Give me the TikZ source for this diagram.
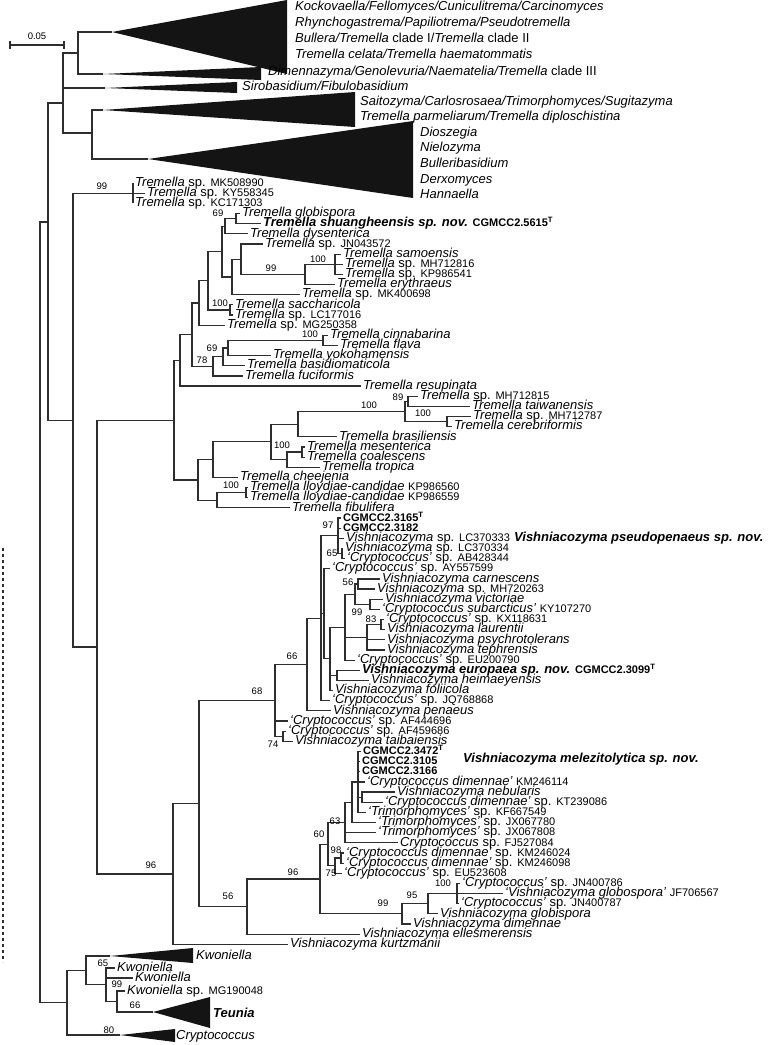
\documentclass[tikz,border=0pt]{standalone}
\usepackage{fontspec}
\setmainfont{Liberation Sans}
\usepackage{tikz}
\newcommand{\acc}[1]{{\fontsize{11}{11}\selectfont\upshape #1}}
\newcommand{\strn}[1]{{\fontsize{11}{11}\selectfont\bfseries\upshape #1}}
\begin{document}
\begin{tikzpicture}[
  x=1pt, y=-1pt,
  br/.style={draw=black!82, line width=1.2pt},
  tri/.style={fill=black!92},
  sp/.style={anchor=west, inner xsep=2pt, inner ysep=0pt, text height=9pt, text depth=2.5pt, font=\fontsize{13}{13}\selectfont},
  bsv/.style={inner sep=0pt, font=\fontsize{9.5}{9.5}\selectfont},
  big/.style={anchor=west, inner sep=0pt, font=\fontsize{13}{13}\selectfont\bfseries\itshape}
]
  \useasboundingbox (0,0) rectangle (771,1045);

  % scale bar
  \coordinate (s0) at (10,45);
  \coordinate (s1) at (64,45);
  \draw[br] (s0) -- (s1) (10,41) -- (10,49) (64,41) -- (64,49);
  \node[bsv] (sl) at (37,36) {0.05};

  % collapsed clades at the top
  \coordinate (root) at (40,612);
  \coordinate (n48) at (48,222);
  \coordinate (nTop) at (63,103);
  \coordinate (nA) at (78,53);
  \coordinate (nB2) at (92,133);
  \coordinate (kock) at (112,32);
  \coordinate (dime) at (103,74);
  \coordinate (siro) at (105,88);
  \coordinate (sait) at (103,110);
  \coordinate (dios) at (148,159);
  \fill[tri] (kock) -- (287,0) -- (287,74) -- cycle;
  \fill[tri] (dime) -- (261,67) -- (261,80) -- cycle;
  \fill[tri] (siro) -- (237,82) -- (237,93) -- cycle;
  \fill[tri] (sait) -- (355,92) -- (355,127) -- cycle;
  \fill[tri] (dios) -- (413,121) -- (413,198) -- cycle;
  \draw[br] (nA) |- (kock) (nA) |- (dime);
  \draw[br] (nB2) |- (sait) (nB2) |- (dios);
  \draw[br] (nTop) |- (nA) (nTop) |- (siro) (nTop) |- (nB2);
  \node[sp] (c1) at (293,7) {\textit{Kockovaella/Fellomyces/Cuniculitrema/Carcinomyces}};
  \node[sp] (c2) at (293,23) {\textit{Rhynchogastrema/Papiliotrema/Pseudotremella}};
  \node[sp] (c3) at (293,39) {\textit{Bullera/Tremella} clade I/\textit{Tremella} clade II};
  \node[sp] (c4) at (293,55) {\textit{Tremella celata/Tremella haematommatis}};
  \node[sp] (c5) at (266,72) {\textit{Dimennazyma/Genolevuria/Naematelia/Tremella} clade III};
  \node[sp] (c6) at (240,87) {\textit{Sirobasidium/Fibulobasidium}};
  \node[sp] (c7) at (358,102) {\textit{Saitozyma/Carlosrosaea/Trimorphomyces/Sugitazyma}};
  \node[sp] (c8) at (358,117) {\textit{Tremella parmeliarum/Tremella diploschistina}};
  \node[sp] (c9) at (418,133) {\textit{Dioszegia}};
  \node[sp] (c10) at (418,148) {\textit{Nielozyma}};
  \node[sp] (c11) at (418,164) {\textit{Bulleribasidium}};
  \node[sp] (c12) at (418,180) {\textit{Derxomyces}};
  \node[sp] (c13) at (418,195) {\textit{Hannaella}};

  % Tremella
  \node[sp] (t1) at (133,183) {\textit{Tremella} sp. \acc{MK508990}};
  \node[sp] (t2) at (145,193.2) {\textit{Tremella} sp. \acc{KY558345}};
  \node[sp] (t3) at (133,203.3) {\textit{Tremella} sp. \acc{KC171303}};
  \node[sp] (t4) at (240,213.5) {\textit{Tremella globispora}};
  \node[sp] (t5) at (261,223.6) {\textbf{\textit{Tremella shuangheensis sp. nov.}} \strn{CGMCC2.5615\textsuperscript{T}}};
  \node[sp] (t6) at (248,233.8) {\textit{Tremella dysenterica}};
  \node[sp] (t7) at (263,243.9) {\textit{Tremella} sp. \acc{JN043572}};
  \node[sp] (t8) at (341,254.1) {\textit{Tremella samoensis}};
  \node[sp] (t9) at (343,264.2) {\textit{Tremella} sp. \acc{MH712816}};
  \node[sp] (t10) at (343,274.4) {\textit{Tremella} sp. \acc{KP986541}};
  \node[sp] (t11) at (335,284.5) {\textit{Tremella erythraeus}};
  \node[sp] (t12) at (300,294.7) {\textit{Tremella} sp. \acc{MK400698}};
  \node[sp] (t13) at (233,304.8) {\textit{Tremella saccharicola}};
  \node[sp] (t14) at (233,315) {\textit{Tremella} sp. \acc{LC177016}};
  \node[sp] (t15) at (225,325.1) {\textit{Tremella} sp. \acc{MG250358}};
  \node[sp] (t16) at (328,335.3) {\textit{Tremella cinnabarina}};
  \node[sp] (t17) at (338,345.4) {\textit{Tremella flava}};
  \node[sp] (t18) at (271,355.6) {\textit{Tremella yokohamensis}};
  \node[sp] (t19) at (245,365.7) {\textit{Tremella basidiomaticola}};
  \node[sp] (t20) at (243,375.9) {\textit{Tremella fuciformis}};
  \node[sp] (t21) at (361,386) {\textit{Tremella resupinata}};
  \node[sp] (t22) at (418,396.2) {\textit{Tremella} sp. \acc{MH712815}};
  \node[sp] (t23) at (470,406.3) {\textit{Tremella taiwanensis}};
  \node[sp] (t24) at (471,416.5) {\textit{Tremella} sp. \acc{MH712787}};
  \node[sp] (t25) at (452,426.6) {\textit{Tremella cerebriformis}};
  \node[sp] (t26) at (337,436.8) {\textit{Tremella brasiliensis}};
  \node[sp] (t27) at (305,446.9) {\textit{Tremella mesenterica}};
  \node[sp] (t28) at (305,457.1) {\textit{Tremella coalescens}};
  \node[sp] (t29) at (320,467.2) {\textit{Tremella tropica}};
  \node[sp] (t30) at (238,477.4) {\textit{Tremella cheejenia}};
  \node[sp] (t31) at (248,487.5) {\textit{Tremella lloydiae-candidae} \acc{KP986560}};
  \node[sp] (t32) at (248,497.7) {\textit{Tremella lloydiae-candidae} \acc{KP986559}};
  \node[sp] (t33) at (290,507.8) {\textit{Tremella fibulifera}};

  \coordinate (n73) at (73,420.1);
  \coordinate (nTs) at (133,193.2);
  \coordinate (n97) at (97,647);
  \coordinate (n174) at (174,420.1);
  \coordinate (n180) at (180,360.3);
  \coordinate (n192) at (192,334.6);
  \coordinate (n199) at (199,302.9);
  \coordinate (n208) at (208,280.7);
  \coordinate (nN2) at (222,251.5);
  \coordinate (nN1) at (225,226.1);
  \coordinate (nGl) at (236,218.5);
  \coordinate (nN3) at (232,276.9);
  \coordinate (n241) at (241,259.1);
  \coordinate (n305) at (305,274.4);
  \coordinate (n335) at (335,264.2);
  \coordinate (nSac) at (230,309.9);
  \coordinate (n78) at (213,366.3);
  \coordinate (nX) at (223,356.8);
  \coordinate (n69) at (228,347.9);
  \coordinate (nCin) at (323,340.3);
  \coordinate (n198) at (198,479.9);
  \coordinate (n213) at (213,459.6);
  \coordinate (n271) at (271,441.8);
  \coordinate (n298) at (298,424.1);
  \coordinate (n405) at (405,411.4);
  \coordinate (n89) at (408,401.2);
  \coordinate (nC) at (447,421.5);
  \coordinate (n287) at (287,459.6);
  \coordinate (nMes) at (302,452);
  \coordinate (n217) at (217,500.2);
  \coordinate (nLl) at (246,492.6);

  \draw[br] (root) |- (n48) (n48) |- (nTop) (n48) |- (n73);
  \draw[br] (n73) |- (nTs) (n73) |- (n97);
  \draw[br] (nTs) |- (t1.west) (nTs) |- (t2.west) (nTs) |- (t3.west);
  \draw[br] (n97) |- (n174) (n174) |- (n180) (n174) |- (n198);
  \draw[br] (n180) |- (n192) (n180) |- (t21.west);
  \draw[br] (n192) |- (n199) (n192) |- (n78);
  \draw[br] (n199) |- (n208) (n199) |- (t15.west);
  \draw[br] (n208) |- (nN2) (n208) |- (nSac);
  \draw[br] (nN2) |- (nN1) (nN2) |- (nN3);
  \draw[br] (nN1) |- (nGl) (nN1) |- (t6.west);
  \draw[br] (nGl) |- (t4.west) (nGl) |- (t5.west);
  \draw[br] (nN3) |- (n241) (nN3) |- (t12.west);
  \draw[br] (n241) |- (t7.west) (n241) |- (n305);
  \draw[br] (n305) |- (n335) (n305) |- (t11.west);
  \draw[br] (n335) |- (t8.west) (n335) |- (t9.west) (n335) |- (t10.west);
  \draw[br] (nSac) |- (t13.west) (nSac) |- (t14.west);
  \draw[br] (n78) |- (nX) (n78) |- (t20.west);
  \draw[br] (nX) |- (n69) (nX) |- (t19.west);
  \draw[br] (n69) |- (nCin) (n69) |- (t18.west);
  \draw[br] (nCin) |- (t16.west) (nCin) |- (t17.west);
  \draw[br] (n198) |- (n213) (n198) |- (n217);
  \draw[br] (n213) |- (n271) (n213) |- (t30.west);
  \draw[br] (n271) |- (n298) (n271) |- (n287);
  \draw[br] (n298) |- (n405) (n298) |- (t26.west);
  \draw[br] (n405) |- (n89) (n405) |- (nC);
  \draw[br] (n89) |- (t22.west) (n89) |- (t23.west);
  \draw[br] (nC) |- (t24.west) (nC) |- (t25.west);
  \draw[br] (n287) |- (nMes) (n287) |- (t29.west);
  \draw[br] (nMes) |- (t27.west) (nMes) |- (t28.west);
  \draw[br] (n217) |- (nLl) (n217) |- (t33.west);
  \draw[br] (nLl) |- (t31.west) (nLl) |- (t32.west);

  % Vishniacozyma
  \node[sp] (t34) at (341,518) {\strn{CGMCC2.3165\textsuperscript{T}}};
  \node[sp] (t35) at (341,528.1) {\strn{CGMCC2.3182}};
  \node[sp] (t36) at (344,538.3) {\textit{Vishniacozyma} sp. \acc{LC370333}};
  \node[sp] (t37) at (343,548.4) {\textit{Vishniacozyma} sp. \acc{LC370334}};
  \node[sp] (t38) at (345,558.6) {\textit{‘Cryptococcus’} sp. \acc{AB428344}};
  \node[sp] (t39) at (330,568.7) {\textit{‘Cryptococcus’} sp. \acc{AY557599}};
  \node[sp] (t40) at (380,578.9) {\textit{Vishniacozyma carnescens}};
  \node[sp] (t41) at (375,589) {\textit{Vishniacozyma} sp. \acc{MH720263}};
  \node[sp] (t42) at (383,599.2) {\textit{Vishniacozyma victoriae}};
  \node[sp] (t43) at (380,609.3) {\textit{‘Cryptococcus subarcticus’} \acc{KY107270}};
  \node[sp] (t44) at (384,619.5) {\textit{‘Cryptococcus’} sp. \acc{KX118631}};
  \node[sp] (t45) at (385,629.6) {\textit{Vishniacozyma laurentii}};
  \node[sp] (t46) at (385,639.8) {\textit{Vishniacozyma psychrotolerans}};
  \node[sp] (t47) at (385,649.9) {\textit{Vishniacozyma tephrensis}};
  \node[sp] (t48) at (355,660.1) {\textit{‘Cryptococcus’} sp. \acc{EU200790}};
  \node[sp] (t49) at (360,670.2) {\textbf{\textit{Vishniacozyma europaea sp. nov.}} \strn{CGMCC2.3099\textsuperscript{T}}};
  \node[sp] (t50) at (369,680.4) {\textit{Vishniacozyma heimaeyensis}};
  \node[sp] (t51) at (333,690.5) {\textit{Vishniacozyma foliicola}};
  \node[sp] (t52) at (330,700.7) {\textit{‘Cryptococcus’} sp. \acc{JQ768868}};
  \node[sp] (t53) at (331,710.8) {\textit{Vishniacozyma penaeus}};
  \node[sp] (t54) at (288,721) {\textit{‘Cryptococcus’} sp. \acc{AF444696}};
  \node[sp] (t55) at (286,731.1) {\textit{‘Cryptococcus’} sp. \acc{AF459686}};
  \node[sp] (t56) at (293,741.3) {\textit{Vishniacozyma taibaiensis}};
  \node[sp] (t57) at (361,751.4) {\strn{CGMCC2.3472\textsuperscript{T}}};
  \node[sp] (t58) at (360,761.6) {\strn{CGMCC2.3105}};
  \node[sp] (t59) at (360,771.7) {\strn{CGMCC2.3166}};
  \node[sp] (t60) at (365,781.9) {\textit{‘Cryptococcus dimennae’} \acc{KM246114}};
  \node[sp] (t61) at (395,792) {\textit{Vishniacozyma nebularis}};
  \node[sp] (t62) at (383,802.2) {\textit{‘Cryptococcus dimennae’} sp. \acc{KT239086}};
  \node[sp] (t63) at (366,812.3) {\textit{‘Trimorphomyces’} sp. \acc{KF667549}};
  \node[sp] (t64) at (376,822.5) {\textit{‘Trimorphomyces’} sp. \acc{JX067780}};
  \node[sp] (t65) at (376,832.6) {\textit{‘Trimorphomyces’} sp. \acc{JX067808}};
  \node[sp] (t66) at (398,842.8) {\textit{Cryptococcus} sp. \acc{FJ527084}};
  \node[sp] (t67) at (344,852.9) {\textit{‘Cryptococcus dimennae’} sp. \acc{KM246024}};
  \node[sp] (t68) at (344,863.1) {\textit{‘Cryptococcus dimennae’} sp. \acc{KM246098}};
  \node[sp] (t69) at (342,873.2) {\textit{‘Cryptococcus’} sp. \acc{EU523608}};
  \node[sp] (t70) at (460,883.4) {\textit{‘Cryptococcus’} sp. \acc{JN400786}};
  \node[sp] (t71) at (503,893.5) {\textit{‘Vishniacozyma globospora’} \acc{JF706567}};
  \node[sp] (t72) at (459,903.7) {\textit{‘Cryptococcus’} sp. \acc{JN400787}};
  \node[sp] (t73) at (438,913.8) {\textit{Vishniacozyma globispora}};
  \node[sp] (t74) at (411,924) {\textit{Vishniacozyma dimennae}};
  \node[sp] (t75) at (360,934.1) {\textit{Vishniacozyma ellesmerensis}};
  \node[sp] (t76) at (288,944.3) {\textit{Vishniacozyma kurtzmanii}};
  \node[big] (vps) at (514,538) {Vishniacozyma pseudopenaeus sp. nov.};
  \node[big] (vme) at (463,759) {Vishniacozyma melezitolytica sp. nov.};

  \coordinate (n173) at (173,873.9);
  \coordinate (n199b) at (199,803.5);
  \coordinate (nY68) at (275,700.4);
  \coordinate (nZ66) at (307,664.5);
  \coordinate (nCc) at (321,618.2);
  \coordinate (nA97) at (338,535.7);
  \coordinate (nB65) at (342,553.5);
  \coordinate (nE) at (324,613.8);
  \coordinate (nF) at (330,658.8);
  \coordinate (nJ) at (345,627.1);
  \coordinate (nG56) at (355,594.1);
  \coordinate (nH) at (358,583.9);
  \coordinate (nI) at (370,604.2);
  \coordinate (nM) at (367,637.2);
  \coordinate (nL83) at (381,624.5);
  \coordinate (nO) at (337,675.3);
  \coordinate (nX74) at (283,736.2);
  \coordinate (n247) at (247,906.6);
  \coordinate (nN96) at (320,879);
  \coordinate (nU60) at (328,844.1);
  \coordinate (nS63) at (345,822.5);
  \coordinate (nR) at (352,802.2);
  \coordinate (nP) at (358,781.9);
  \coordinate (nQ) at (362,797.1);
  \coordinate (nV75) at (335,865.6);
  \coordinate (nW98) at (341,858);
  \coordinate (n402) at (402,913.8);
  \coordinate (n428) at (428,903.7);
  \coordinate (n457) at (457,893.5);

  \draw[br] (n97) |- (n173) (n173) |- (n199b) (n173) |- (t76.west);
  \draw[br] (n199b) |- (nY68) (n199b) |- (n247);
  \draw[br] (nY68) |- (nZ66) (nY68) |- (t54.west) (nY68) |- (nX74);
  \draw[br] (nX74) |- (t55.west) (nX74) |- (t56.west);
  \draw[br] (nZ66) |- (nCc) (nZ66) |- (t53.west);
  \draw[br] (nCc) |- (nA97) (nCc) |- (nE) (nCc) |- (t52.west);
  \draw[br] (nA97) |- (t34.west) (nA97) |- (t35.west) (nA97) |- (t36.west) (nA97) |- (nB65);
  \draw[br] (nB65) |- (t37.west) (nB65) |- (t38.west);
  \draw[br] (nE) |- (t39.west) (nE) |- (nF);
  \draw[br] (nF) |- (nJ) (nF) |- (nO) (nF) |- (t51.west);
  \draw[br] (nJ) |- (nG56) (nJ) |- (nM) (nJ) |- (t48.west);
  \draw[br] (nG56) |- (nH) (nG56) |- (nI);
  \draw[br] (nH) |- (t40.west) (nH) |- (t41.west);
  \draw[br] (nI) |- (t42.west) (nI) |- (t43.west);
  \draw[br] (nM) |- (nL83) (nM) |- (t46.west) (nM) |- (t47.west);
  \draw[br] (nL83) |- (t44.west) (nL83) |- (t45.west);
  \draw[br] (nO) |- (t49.west) (nO) |- (t50.west);
  \draw[br] (n247) |- (nN96) (n247) |- (t75.west);
  \draw[br] (nN96) |- (nU60) (nN96) |- (n402);
  \draw[br] (nU60) |- (nS63) (nU60) |- (nV75);
  \draw[br] (nS63) |- (nR) (nS63) |- (t65.west) (nS63) |- (t66.west);
  \draw[br] (nR) |- (nP) (nR) |- (t64.west);
  \draw[br] (nP) |- (t57.west) (nP) |- (t58.west) (nP) |- (t59.west) (nP) |- (t60.west) (nP) |- (nQ) (nP) |- (t63.west);
  \draw[br] (nQ) |- (t61.west) (nQ) |- (t62.west);
  \draw[br] (nV75) |- (nW98) (nV75) |- (t69.west);
  \draw[br] (nW98) |- (t67.west) (nW98) |- (t68.west);
  \draw[br] (n402) |- (n428) (n402) |- (t74.west);
  \draw[br] (n428) |- (n457) (n428) |- (t73.west);
  \draw[br] (n457) |- (t70.west) (n457) |- (t71.west) (n457) |- (t72.west);

  % outgroup
  \coordinate (n67) at (67,1002.7);
  \coordinate (n86) at (86,970.4);
  \coordinate (n106) at (106,984.8);
  \coordinate (n117) at (117,1001.5);
  \coordinate (kwon) at (110,956);
  \coordinate (teun) at (153,1012);
  \coordinate (cryp) at (120,1035);
  \fill[tri] (kwon) -- (193,948) -- (193,963) -- cycle;
  \fill[tri] (teun) -- (210,997) -- (210,1028) -- cycle;
  \fill[tri] (cryp) -- (175,1029) -- (175,1042) -- cycle;
  \node[sp] (t77) at (194,956) {\textit{Kwoniella}};
  \node[sp] (t78) at (115,968) {\textit{Kwoniella}};
  \node[sp] (t79) at (133,978) {\textit{Kwoniella}};
  \node[sp] (t80) at (125,991) {\textit{Kwoniella} sp. \acc{MG190048}};
  \node[sp] (t81) at (211,1014) {\textbf{\textit{Teunia}}};
  \node[sp] (t82) at (174,1036) {\textit{Cryptococcus}};
  \draw[br] (root) |- (n67) (n67) |- (n86) (n67) |- (cryp);
  \draw[br] (n86) |- (kwon) (n86) |- (n106);
  \draw[br] (n106) |- (t78.west) (n106) |- (t79.west) (n106) |- (n117);
  \draw[br] (n117) |- (t80.west) (n117) |- (teun);
  \coordinate (d0) at (3,548);
  \coordinate (d1) at (3,962);
  \draw[br, dashed] (d0) -- (d1);

  % support values
  \node[bsv] (b1) at (102,186) {99};
  \node[bsv] (b2) at (218,213) {69};
  \node[bsv] (b3) at (271,268) {99};
  \node[bsv] (b4) at (318,259) {100};
  \node[bsv] (b5) at (220,303) {100};
  \node[bsv] (b6) at (310,334) {100};
  \node[bsv] (b7) at (212,348) {69};
  \node[bsv] (b8) at (202,360) {78};
  \node[bsv] (b9) at (398,397) {89};
  \node[bsv] (b10) at (369,405) {100};
  \node[bsv] (b11) at (423,413) {100};
  \node[bsv] (b12) at (282,445) {100};
  \node[bsv] (b13) at (231,485) {100};
  \node[bsv] (b14) at (328,525) {97};
  \node[bsv] (b15) at (332,553) {65};
  \node[bsv] (b16) at (348,582) {56};
  \node[bsv] (b17) at (357,612) {99};
  \node[bsv] (b18) at (371,619) {83};
  \node[bsv] (b19) at (292,656) {66};
  \node[bsv] (b20) at (257,691) {68};
  \node[bsv] (b21) at (273,744) {74};
  \node[bsv] (b22) at (335,821) {63};
  \node[bsv] (b23) at (319,834) {60};
  \node[bsv] (b24) at (336,850) {98};
  \node[bsv] (b25) at (331,873) {75};
  \node[bsv] (b26) at (293,872) {96};
  \node[bsv] (b27) at (228,896) {56};
  \node[bsv] (b28) at (151,865) {96};
  \node[bsv] (b29) at (383,903) {99};
  \node[bsv] (b30) at (412,895) {95};
  \node[bsv] (b31) at (443,883) {100};
  \node[bsv] (b32) at (103,963) {65};
  \node[bsv] (b33) at (117,984) {99};
  \node[bsv] (b34) at (135,1005) {66};
  \node[bsv] (b35) at (109,1030) {80};
\end{tikzpicture}
\end{document}
